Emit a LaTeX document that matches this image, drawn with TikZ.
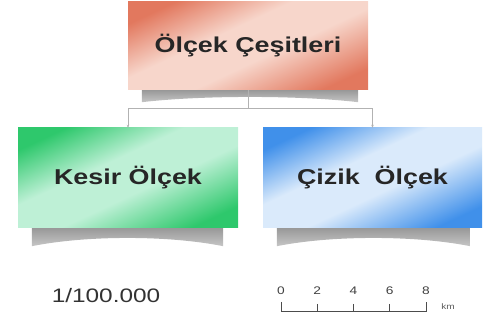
\documentclass[tikz,border=0pt]{standalone}
\usepackage{fontspec}
\usepackage{tikz}
\usetikzlibrary{positioning, arrows.meta, calc}
\newfontfamily\kutufont[FakeStretch=1.25]{Liberation Sans}
\definecolor{somon}{RGB}{226,120,94}
\definecolor{somonacik}{RGB}{247,214,203}
\definecolor{yesil}{RGB}{46,200,108}
\definecolor{yesilacik}{RGB}{190,240,214}
\definecolor{mavi}{RGB}{64,144,234}
\definecolor{maviacik}{RGB}{218,234,251}
\pgfdeclarehorizontalshading{somonsh}{100bp}{color(0bp)=(somon); color(24bp)=(somon); color(44bp)=(somonacik); color(58bp)=(somonacik); color(76bp)=(somon); color(100bp)=(somon)}
\pgfdeclarehorizontalshading{yesilsh}{100bp}{color(0bp)=(yesil); color(24bp)=(yesil); color(44bp)=(yesilacik); color(58bp)=(yesilacik); color(76bp)=(yesil); color(100bp)=(yesil)}
\pgfdeclarehorizontalshading{mavish}{100bp}{color(0bp)=(mavi); color(24bp)=(mavi); color(44bp)=(maviacik); color(58bp)=(maviacik); color(76bp)=(mavi); color(100bp)=(mavi)}

\begin{document}
\begin{tikzpicture}[x=1pt, y=-1pt,
  kutu/.style={minimum width=220pt, minimum height=100pt, inner sep=0pt,
    font=\kutufont\bfseries\fontsize{21.5}{25}\selectfont, text=black!85},
  golge/.style={top color=gray!80, bottom color=gray!45, draw=none},
  bag/.style={draw=gray!60, line width=0.5pt},
  olcek/.style={draw=black!70, line width=0.7pt}
]
    \useasboundingbox (0,0) rectangle (488,320);

    % kutular
    \node[kutu, minimum width=240pt, minimum height=88pt, shading=somonsh, shading angle=115]
      (cesit) at (248,46) {Ölçek Çeşitleri};
    \node[kutu, shading=yesilsh, shading angle=115]
      (kesir) at (128,178) {Kesir Ölçek};
    \node[kutu, minimum width=219pt, shading=mavish, shading angle=115]
      (cizik) at (372.5,178) {Çizik\ \ Ölçek};

    % golgeler
    \shade[golge] ($(cesit.south west)+(14,0)$) -- ++(0,12)
      .. controls +(60,-7) and +(-60,-7) .. ($(cesit.south east)+(-10,12)$)
      -- ($(cesit.south east)+(-10,0)$) -- cycle;
    \shade[golge] ($(kesir.south west)+(14,0)$) -- ++(0,18)
      .. controls +(55,-11) and +(-55,-11) .. ($(kesir.south east)+(-15,18)$)
      -- ($(kesir.south east)+(-15,0)$) -- cycle;
    \shade[golge] ($(cizik.south west)+(14,0)$) -- ++(0,18)
      .. controls +(55,-11) and +(-55,-11) .. ($(cizik.south east)+(-12,18)$)
      -- ($(cizik.south east)+(-12,0)$) -- cycle;

    % baglantilar
    \coordinate (ayrim) at (248,108);
    \draw[bag] (cesit.south) -- (ayrim);
    \draw[bag, -{Stealth[length=3pt, width=2.5pt]}] (ayrim) -| (kesir.north);
    \draw[bag, -{Stealth[length=3pt, width=2.5pt]}] (ayrim) -| (cizik.north);

    % ornekler
    \node[font=\kutufont\fontsize{19.5}{22}\selectfont, text=black!80] (kesirornek) at (106,296) {1/100.000};

    \draw[olcek] (281,302) -- (281,311) -- (426,311) -- (426,302);
    \foreach \i [evaluate=\i as \x using 281+36.25*\i, evaluate=\i as \d using int(2*\i)] in {0,...,4} {
        \draw[olcek] (\x,304) -- (\x,311);
        \node[font=\kutufont\fontsize{11}{12}\selectfont, text=black!75] (s\i) at (\x,291) {\d};
    }
    \node[font=\kutufont\fontsize{8}{9}\selectfont, text=black!65] (km) at (448,307) {km};
\end{tikzpicture}
\end{document}
